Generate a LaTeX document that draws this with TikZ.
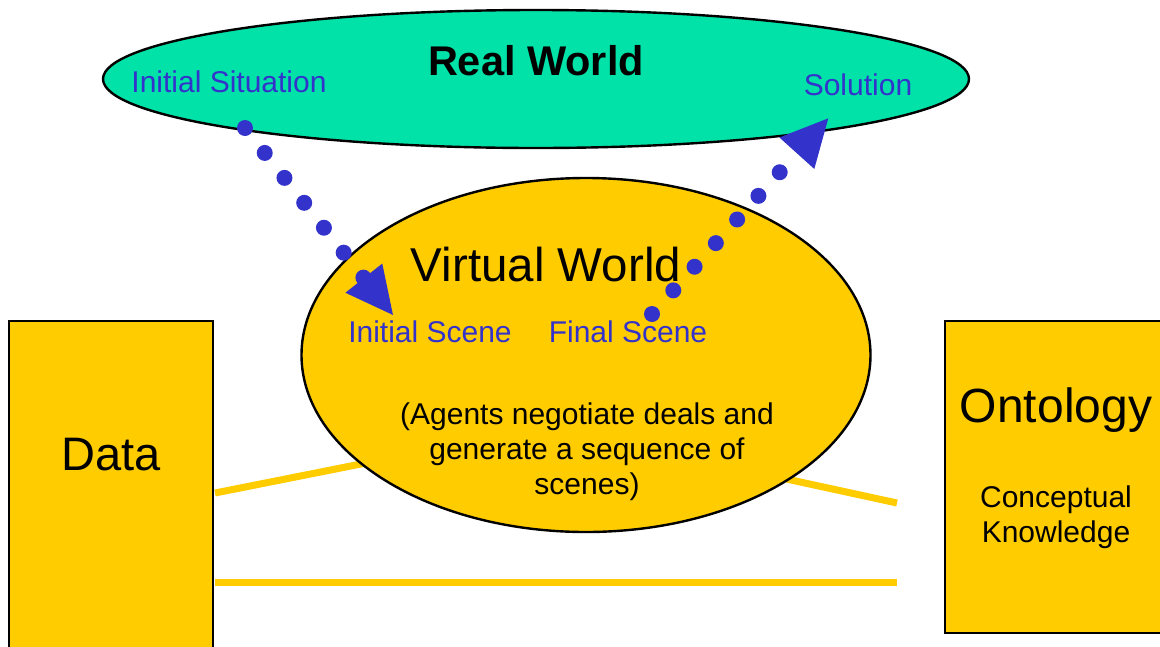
\documentclass[tikz,border=0pt]{standalone}
\usepackage{fontspec}
\setmainfont{Liberation Sans}
\usetikzlibrary{shapes.geometric,arrows.meta}
\definecolor{worldgreen}{RGB}{0,226,168}
\definecolor{boxyellow}{RGB}{255,204,0}
\definecolor{agentblue}{RGB}{51,51,204}
\tikzset{
  outline/.style={draw=black, line width=2.4pt},
  band/.style={draw=boxyellow, line width=7pt},
  hop/.style={draw=agentblue, line width=16pt, line cap=round,
    dash pattern=on 0pt off 31.8pt,
    -{Triangle[length=47pt,width=47pt,line width=0pt,fill=agentblue]}},
  lbl/.style={inner sep=0pt, anchor=base},
  sz30/.style={font=\fontsize{30}{35}\selectfont},
}
\begin{document}
\begin{tikzpicture}[x=1pt,y=-1pt]
\useasboundingbox (0,0) rectangle (1160,646);

% real world
\node[ellipse, outline, fill=worldgreen, minimum width=866pt,
  minimum height=138pt, inner sep=0pt] (real) at (536,79) {};

% bands linking the data store and the ontology
\coordinate (d1) at (215,493);
\coordinate (mid) at (547,427);
\coordinate (o1) at (897,503);
\coordinate (d2) at (215,582);
\coordinate (o2) at (897,582);
\draw[band] (d1) -- (mid) -- (o1);
\draw[band] (d2) -- (o2);

% virtual world
\node[ellipse, outline, fill=boxyellow, minimum width=569pt,
  minimum height=354pt, inner sep=0pt] (virtual) at (586,355) {};

% side boxes
\node[rectangle, outline, fill=boxyellow, minimum width=204pt,
  minimum height=349pt, inner sep=0pt] (databox) at (111,495.5) {};
\node[rectangle, outline, fill=boxyellow, minimum width=230pt,
  minimum height=312pt, inner sep=0pt] (ontobox) at (1060,477) {};

% labels
\node[lbl, font=\bfseries\fontsize{41.5}{48}\selectfont] (rwt) at (536,75) {Real World};
\node[lbl, sz30, text=agentblue] (init) at (229,92) {Initial Situation};
\node[lbl, sz30, text=agentblue] (sol) at (858,95) {Solution};
\node[lbl, font=\fontsize{47.5}{55}\selectfont] (vwt) at (546,281) {Virtual World};
\node[lbl, sz30, text=agentblue] (iscene) at (430,342) {Initial Scene};
\node[lbl, sz30, text=agentblue] (fscene) at (628,342) {Final Scene};
\node[inner sep=0pt, sz30, align=center] (agents) at (587,452)
  {(Agents negotiate deals and\\generate a sequence of\\scenes)};
\node[lbl, font=\fontsize{47}{55}\selectfont] (data) at (111,470) {Data};
\node[lbl, font=\fontsize{48}{55}\selectfont] (onto) at (1056,422) {Ontology};
\node[inner sep=0pt, sz30, align=center] (know) at (1056,517)
  {Conceptual\\Knowledge};

% dotted transitions between the worlds
\coordinate (s1) at (245,128);
\coordinate (e1) at (393,315);
\coordinate (s2) at (652,314);
\coordinate (e2) at (828.3,118.3);
\draw[hop] (s1) -- (e1);
\draw[hop] (s2) -- (e2);
\end{tikzpicture}
\end{document}
